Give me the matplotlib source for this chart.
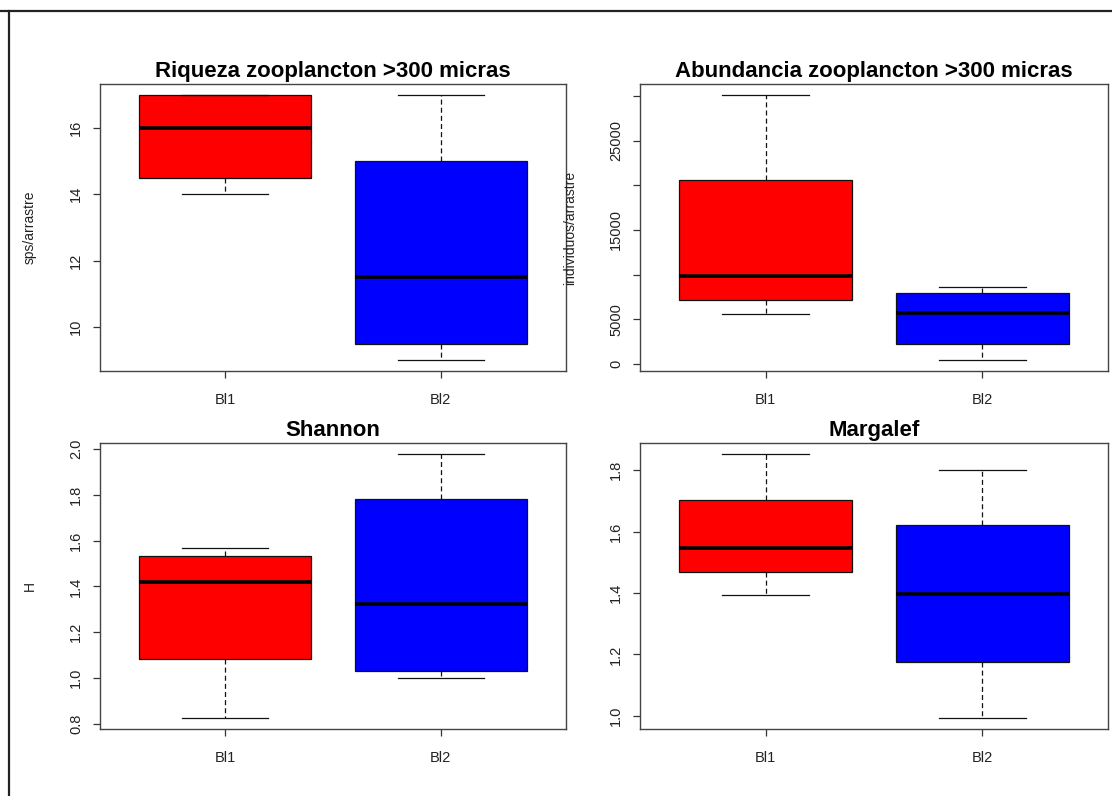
import matplotlib.pyplot as plt
from matplotlib.lines import Line2D

plt.rcParams["font.family"] = ["Liberation Sans", "DejaVu Sans"]

groups = ["Bl1", "Bl2"]
box_colors = ["#ff0000", "#0000ff"]

# five-number summaries: (min, q1, median, q3, max)
riqueza = [(14.0, 14.5, 16.0, 17.0, 17.0), (9.0, 9.5, 11.5, 15.0, 17.0)]
abundancia = [(5570, 7110, 9870, 20650, 30180), (380, 2190, 5690, 7900, 8580)]
shannon = [(0.823, 1.081, 1.42, 1.531, 1.566), (1.0, 1.029, 1.323, 1.784, 1.981)]
margalef = [(1.395, 1.470, 1.548, 1.704, 1.854), (0.992, 1.175, 1.398, 1.62, 1.80)]

titles = ["Riqueza zooplancton >300 micras", "Abundancia zooplancton >300 micras",
          "Shannon", "Margalef"]
ylabels = ["sps/arrastre", "individuos/arrastre", "H", ""]
yticks = [
    [10, 12, 14, 16],
    [0, 5000, 10000, 15000, 20000, 25000, 30000],
    [0.8, 1.0, 1.2, 1.4, 1.6, 1.8, 2.0],
    [1.0, 1.2, 1.4, 1.6, 1.8],
]
yticklabels = [
    ["10", "12", "14", "16"],
    ["0", "5000", "", "15000", "", "25000", ""],
    ["0.8", "1.0", "1.2", "1.4", "1.6", "1.8", "2.0"],
    ["1.0", "1.2", "1.4", "1.6", "1.8"],
]
panels = [riqueza, abundancia, shannon, margalef]

# axes rectangles in figure fractions
rects = [
    [0.0899, 0.5339, 0.4191, 0.3606],
    [0.5755, 0.5339, 0.4209, 0.3606],
    [0.0899, 0.0842, 0.4191, 0.3593],
    [0.5755, 0.0842, 0.4209, 0.3593],
]

fig = plt.figure(figsize=(11.12, 7.96), dpi=100)

for data, title, ylab, ticks, tlabels, rect in zip(panels, titles, ylabels, yticks, yticklabels, rects):
    ax = fig.add_axes(rect)
    stats = [
        {"whislo": lo, "q1": q1, "med": med, "q3": q3, "whishi": hi, "fliers": [], "label": g}
        for (lo, q1, med, q3, hi), g in zip(data, groups)
    ]
    bp = ax.bxp(
        stats, positions=[1, 2], widths=0.8, patch_artist=True, showfliers=False,
        boxprops=dict(edgecolor="#111111", linewidth=0.9),
        medianprops=dict(color="black", linewidth=2.6, solid_capstyle="butt"),
        whiskerprops=dict(color="#111111", linewidth=0.9, linestyle=(0, (4, 2.5))),
        capprops=dict(color="#111111", linewidth=0.9),
        capwidths=0.4,
    )
    for patch, c in zip(bp["boxes"], box_colors):
        patch.set_facecolor(c)

    lo = min(d[0] for d in data)
    hi = max(d[4] for d in data)
    pad = 0.04 * (hi - lo)
    ax.set_ylim(lo - pad, hi + pad)
    ax.set_xlim(0.42, 2.58)

    ax.set_yticks(ticks)
    ax.set_yticklabels(tlabels, rotation=90, va="center")
    ax.set_xticks([1, 2])
    ax.set_xticklabels(groups)
    ax.tick_params(axis="y", length=5, width=0.9, color="#333333", labelsize=10.5,
                   labelcolor="#222222", pad=7)
    ax.tick_params(axis="x", length=5, width=0.9, color="#333333", labelsize=10.5,
                   labelcolor="#222222", pad=11)
    for sp in ax.spines.values():
        sp.set_color("#444444")
        sp.set_linewidth(1.0)

    ax.set_title(title, fontsize=16, fontweight="bold", pad=5)
    if ylab:
        ax.set_ylabel(ylab, fontsize=10, color="#222222")
        ax.yaxis.set_label_coords(-0.135, 0.5)

# screenshot frame: top and left edges
fig.add_artist(Line2D([0, 1], [1 - 11 / 796, 1 - 11 / 796], color="#222222", linewidth=1.6))
fig.add_artist(Line2D([9 / 1112, 9 / 1112], [0, 1 - 11 / 796], color="#222222", linewidth=1.6))

fig.savefig("out.png", dpi=100)
